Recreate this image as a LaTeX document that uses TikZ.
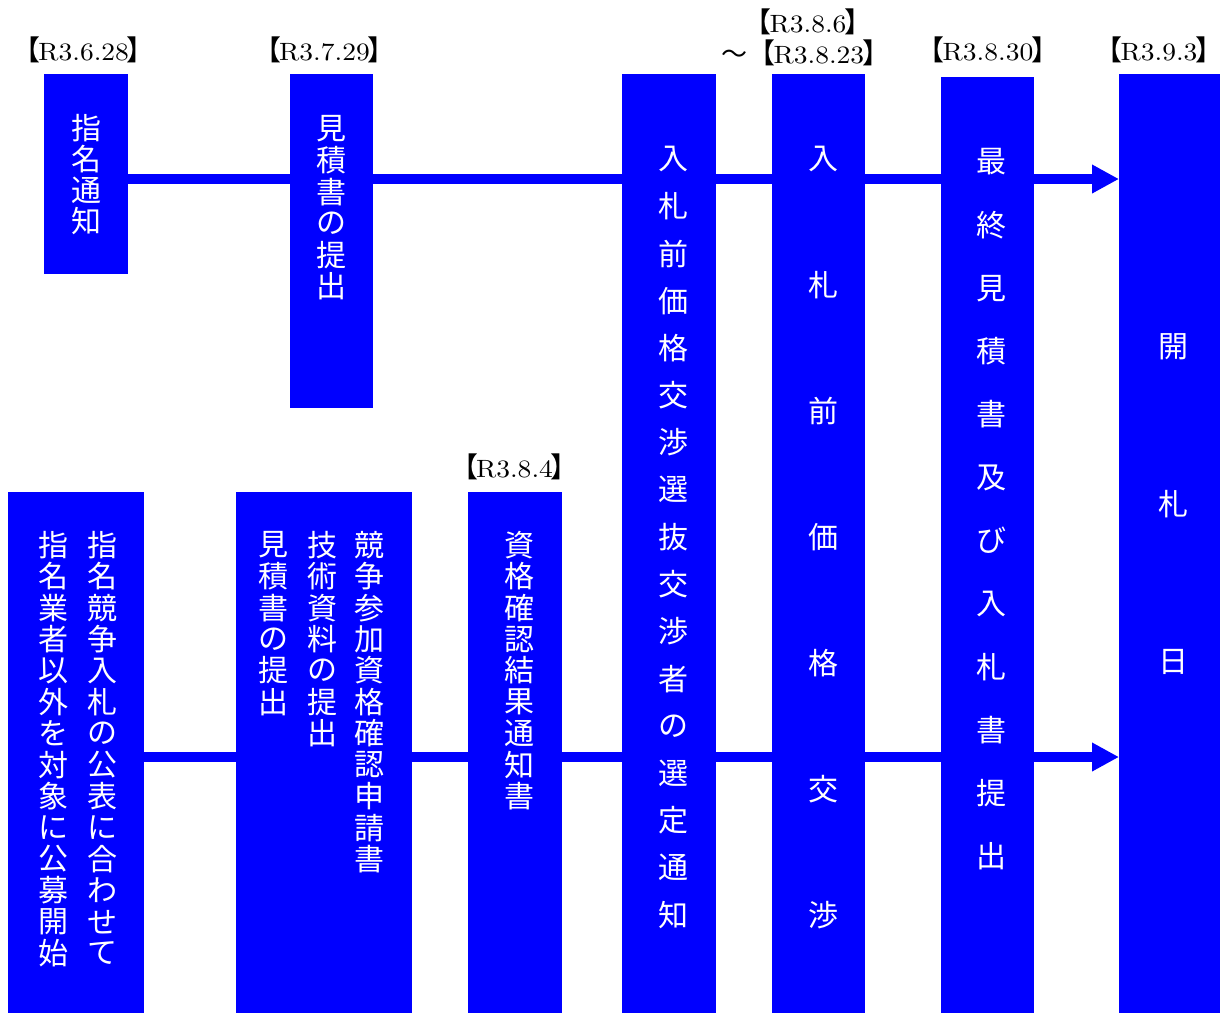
\documentclass[tikz,border=0pt]{standalone}
\usepackage{fontspec}
\newfontfamily\jp{Noto Sans CJK JP}
\newfontfamily\datefont{lmroman10-regular}[Extension=.otf, FakeStretch=1.1]
\usetikzlibrary{arrows.meta}
\tikzset{
  box/.style={fill=blue, draw=none, inner sep=0pt, outer sep=0pt, anchor=north west},
  jchar/.style={text=white, inner sep=0pt, font=\jp\fontsize{30pt}{30pt}\selectfont},
  datelbl/.style={inner sep=0pt, anchor=base, font=\datefont\fontsize{25pt}{30pt}\selectfont},
  flow/.style={draw=blue, line width=10pt},
  flowarrow/.style={flow, -{Triangle[length=27pt,width=27pt]}},
}
\newcommand\jcol[5]{\foreach \c [count=\i from 0] in {#5} {\node[jchar] (#1\i) at (#2, {#3+\i*#4}) {\c};}}
\newcommand\lb{\makebox[15pt][r]{\jp\fontsize{28pt}{30pt}\selectfont 【}\kern-2pt}
\newcommand\rb{\kern-2pt\makebox[15pt][l]{\jp\fontsize{28pt}{30pt}\selectfont 】}}
\begin{document}
\begin{tikzpicture}[x=1pt, y=-1pt]
\useasboundingbox (0,0) rectangle (1224,1013);
% boxes
\node[box, minimum width=84pt, minimum height=200pt] (n1) at (44,74) {};
\node[box, minimum width=83pt, minimum height=334pt] (n2) at (290,74) {};
\node[box, minimum width=94pt, minimum height=939pt] (n3) at (622,74) {};
\node[box, minimum width=93pt, minimum height=939pt] (n4) at (772,74) {};
\node[box, minimum width=93pt, minimum height=936pt] (n5) at (941,77) {};
\node[box, minimum width=101pt, minimum height=939pt] (n6) at (1119,74) {};
\node[box, minimum width=136pt, minimum height=521pt] (b1) at (8,492) {};
\node[box, minimum width=176pt, minimum height=521pt] (b2) at (236,492) {};
\node[box, minimum width=94pt, minimum height=521pt] (b3) at (468,492) {};
% connectors
\coordinate (ty) at (0,179);
\coordinate (by) at (0,757);
\draw[flow] (n1.east |- ty) -- (n2.west |- ty);
\draw[flow] (n2.east |- ty) -- (n3.west |- ty);
\draw[flow] (n3.east |- ty) -- (n4.west |- ty);
\draw[flow] (n4.east |- ty) -- (n5.west |- ty);
\draw[flowarrow] (n5.east |- ty) -- (n6.west |- ty);
\draw[flow] (b1.east |- by) -- (b2.west |- by);
\draw[flow] (b2.east |- by) -- (b3.west |- by);
\draw[flow] (b3.east |- by) -- (n3.west |- by);
\draw[flow] (n3.east |- by) -- (n4.west |- by);
\draw[flow] (n4.east |- by) -- (n5.west |- by);
\draw[flowarrow] (n5.east |- by) -- (n6.west |- by);
% texts
\jcol{n1c}{86}{128}{31}{指,名,通,知}
\jcol{n2c}{331.5}{129}{31.5}{見,積,書,の,提,出}
\jcol{n3c}{673}{159}{47.25}{入,札,前,価,格,交,渉,選,抜,交,渉,者,の,選,定,通,知}
\jcol{n4c}{823}{159}{126}{入,札,前,価,格,交,渉}
\jcol{n5c}{991}{162}{63.1}{最,終,見,積,書,及,び,入,札,書,提,出}
\jcol{n6c}{1173}{347}{157.5}{開,札,日}
\jcol{b1r}{102}{545}{31.4}{指,名,競,争,入,札,の,公,表,に,合,わ,せ,て}
\jcol{b1l}{53}{545}{31.4}{指,名,業,者,以,外,を,対,象,に,公,募,開,始}
\jcol{b2r}{369}{545}{31.4}{競,争,参,加,資,格,確,認,申,請,書}
\jcol{b2m}{322}{545}{31.4}{技,術,資,料,の,提,出}
\jcol{b2l}{273}{545}{31.4}{見,積,書,の,提,出}
\jcol{b3c}{519}{545}{31.4}{資,格,確,認,結,果,通,知,書}
% dates
\node[datelbl] (d1) at (83.7,60) {\lb R3.6.28\rb};
\node[datelbl] (d2) at (324.5,60) {\lb R3.7.29\rb};
\node[datelbl] (d3) at (808,32) {\lb R3.8.6\rb};
\node[datelbl, anchor=base west] (d4) at (721.5,63) {{\jp\fontsize{26pt}{30pt}\selectfont ～}\hspace{13pt}\lb R3.8.23\rb};
\node[datelbl] (d5) at (988,60) {\lb R3.8.30\rb};
\node[datelbl] (d6) at (1159,60) {\lb R3.9.3\rb};
\node[datelbl] (d7) at (514.5,477) {\lb R3.8.4\rb};
\end{tikzpicture}
\end{document}
